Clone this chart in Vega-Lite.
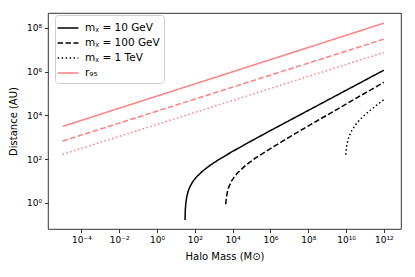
{
  "$schema": "https://vega.github.io/schema/vega-lite/v6.json",
  "width": 353,
  "height": 216,
  "autosize": {"type": "none"},
  "padding": {"left": 48, "top": 13, "right": 14, "bottom": 48},
  "config": {
    "font": "DejaVu Sans",
    "view": {"stroke": "black", "strokeWidth": 0.8},
    "axis": {
      "domain": false,
      "grid": false,
      "tickColor": "black",
      "tickSize": 3.5,
      "tickWidth": 0.8,
      "labelColor": "black",
      "labelFontSize": 9,
      "labelPadding": 3,
      "titleFontSize": 10,
      "titleFontWeight": "normal",
      "titleColor": "black",
      "labelFont": "DejaVu Sans",
      "titleFont": "DejaVu Sans"
    },
    "legend": {
      "labelFont": "DejaVu Sans",
      "labelFontSize": 10.5,
      "labelColor": "black"
    }
  },
  "datasets": {
    "main": [
      {"s": "mᵪ = 10 GeV", "m": 30.2, "d": 0.166},
      {"s": "mᵪ = 10 GeV", "m": 31.6, "d": 0.55},
      {"s": "mᵪ = 10 GeV", "m": 33.9, "d": 1.096},
      {"s": "mᵪ = 10 GeV", "m": 37.2, "d": 1.862},
      {"s": "mᵪ = 10 GeV", "m": 44.7, "d": 3.548},
      {"s": "mᵪ = 10 GeV", "m": 56.2, "d": 5.754},
      {"s": "mᵪ = 10 GeV", "m": 79.4, "d": 9.772},
      {"s": "mᵪ = 10 GeV", "m": 125.9, "d": 15.85},
      {"s": "mᵪ = 10 GeV", "m": 251.2, "d": 28.18},
      {"s": "mᵪ = 10 GeV", "m": 631, "d": 52.48},
      {"s": "mᵪ = 10 GeV", "m": 1995, "d": 100},
      {"s": "mᵪ = 10 GeV", "m": 1e4, "d": 229.1},
      {"s": "mᵪ = 10 GeV", "m": 1e5, "d": 691.8},
      {"s": "mᵪ = 10 GeV", "m": 1e6, "d": 2042},
      {"s": "mᵪ = 10 GeV", "m": 3.162e7, "d": 1e4},
      {"s": "mᵪ = 10 GeV", "m": 1e9, "d": 4.898e4},
      {"s": "mᵪ = 10 GeV", "m": 3.162e10, "d": 2.399e5},
      {"s": "mᵪ = 10 GeV", "m": 1e12, "d": 1.175e6},
      {"s": "mᵪ = 100 GeV", "m": 4315, "d": 0.871},
      {"s": "mᵪ = 100 GeV", "m": 4467, "d": 1.23},
      {"s": "mᵪ = 100 GeV", "m": 4786, "d": 1.995},
      {"s": "mᵪ = 100 GeV", "m": 5370, "d": 3.388},
      {"s": "mᵪ = 100 GeV", "m": 6310, "d": 5.37},
      {"s": "mᵪ = 100 GeV", "m": 7943, "d": 8.71},
      {"s": "mᵪ = 100 GeV", "m": 1.122e4, "d": 14.13},
      {"s": "mᵪ = 100 GeV", "m": 1.995e4, "d": 25.7},
      {"s": "mᵪ = 100 GeV", "m": 5.012e4, "d": 53.7},
      {"s": "mᵪ = 100 GeV", "m": 1.585e5, "d": 112.2},
      {"s": "mᵪ = 100 GeV", "m": 1e6, "d": 309},
      {"s": "mᵪ = 100 GeV", "m": 1e7, "d": 1023},
      {"s": "mᵪ = 100 GeV", "m": 3.162e8, "d": 5888},
      {"s": "mᵪ = 100 GeV", "m": 1.585e10, "d": 4.169e4},
      {"s": "mᵪ = 100 GeV", "m": 1e12, "d": 3.311e5},
      {"s": "mᵪ = 1 TeV", "m": 9.66e9, "d": 162.2},
      {"s": "mᵪ = 1 TeV", "m": 1e10, "d": 234.4},
      {"s": "mᵪ = 1 TeV", "m": 1.122e10, "d": 489.8},
      {"s": "mᵪ = 1 TeV", "m": 1.413e10, "d": 1047},
      {"s": "mᵪ = 1 TeV", "m": 1.995e10, "d": 2042},
      {"s": "mᵪ = 1 TeV", "m": 3.548e10, "d": 4266},
      {"s": "mᵪ = 1 TeV", "m": 7.079e10, "d": 8128},
      {"s": "mᵪ = 1 TeV", "m": 1.585e11, "d": 1.514e4},
      {"s": "mᵪ = 1 TeV", "m": 3.981e11, "d": 2.884e4},
      {"s": "mᵪ = 1 TeV", "m": 1e12, "d": 5.248e4},
      {"s": "r₉₅", "m": 1e-5, "d": 3162},
      {"s": "r₉₅", "m": 1e12, "d": 1.66e8}
    ],
    "pinkDashed": [
      {"m": 1e-5, "d": 676},
      {"m": 1e12, "d": 3.09e7}
    ],
    "pinkDotted": [
      {"m": 1e-5, "d": 166},
      {"m": 1e12, "d": 7.59e6}
    ]
  },
  "encoding": {
    "x": {
      "field": "m", "type": "quantitative",
      "scale": {"type": "log", "domain": [1.7e-6, 8.1e12], "nice": false},
      "axis": {
        "title": "Halo Mass (M⊙)",
        "values": [1e-4, 1e-2, 1, 100, 1e4, 1e6, 1e8, 1e10, 1e12],
        "labelExpr": "'10' + replace(replace(replace(replace(replace(replace(replace(replace(replace(replace('' + round(log(datum.value)/LN10), '-', '⁻'), '0', '⁰'), '1', '¹'), '2', '²'), '4', '⁴'), '6', '⁶'), '8', '⁸'), '3', '³'), '5', '⁵'), '9', '⁹')",
        "titlePadding": 7
      }
    },
    "y": {
      "field": "d", "type": "quantitative",
      "scale": {"type": "log", "domain": [0.0646, 4.85e8], "nice": false},
      "axis": {
        "title": "Distance (AU)",
        "values": [1, 100, 1e4, 1e6, 1e8],
        "labelExpr": "'10' + replace(replace(replace(replace(replace(replace('' + round(log(datum.value)/LN10), '-', '⁻'), '0', '⁰'), '2', '²'), '4', '⁴'), '6', '⁶'), '8', '⁸')",
        "titlePadding": 8
      }
    }
  },
  "layer": [
    {
      "data": {"name": "pinkDashed"},
      "mark": {"type": "line", "color": "#ff8080", "strokeWidth": 1.5, "strokeDash": [5.5, 2.4]}
    },
    {
      "data": {"name": "pinkDotted"},
      "mark": {"type": "line", "color": "#ff8080", "strokeWidth": 1.5, "strokeDash": [1.5, 2.5]}
    },
    {
      "data": {"name": "main"},
      "mark": {"type": "line", "strokeWidth": 1.5},
      "encoding": {
        "color": {
          "field": "s", "type": "nominal",
          "scale": {
            "domain": ["mᵪ = 10 GeV", "mᵪ = 100 GeV", "mᵪ = 1 TeV", "r₉₅"],
            "range": ["black", "black", "black", "#ff8080"]
          },
          "legend": {
            "title": null,
            "orient": "none",
            "legendX": 7,
            "legendY": 2,
            "symbolType": "M-1.3,0H1.3",
            "symbolSize": 256,
            "symbolStrokeWidth": 1.5,
            "padding": 4,
            "rowPadding": 0,
            "labelOffset": 8,
            "strokeColor": "#cccccc",
            "fillColor": "white",
            "cornerRadius": 3
          }
        },
        "strokeDash": {
          "field": "s", "type": "nominal",
          "scale": {
            "domain": ["mᵪ = 10 GeV", "mᵪ = 100 GeV", "mᵪ = 1 TeV", "r₉₅"],
            "range": [[1, 0], [5.5, 2.4], [1.5, 2.5], [1, 0]]
          },
          "legend": {
            "title": null,
            "orient": "none",
            "legendX": 7,
            "legendY": 2,
            "symbolType": "M-1.3,0H1.3",
            "symbolSize": 256,
            "symbolStrokeWidth": 1.5,
            "padding": 4,
            "rowPadding": 0,
            "labelOffset": 8,
            "strokeColor": "#cccccc",
            "fillColor": "white",
            "cornerRadius": 3
          }
        }
      }
    }
  ]
}
